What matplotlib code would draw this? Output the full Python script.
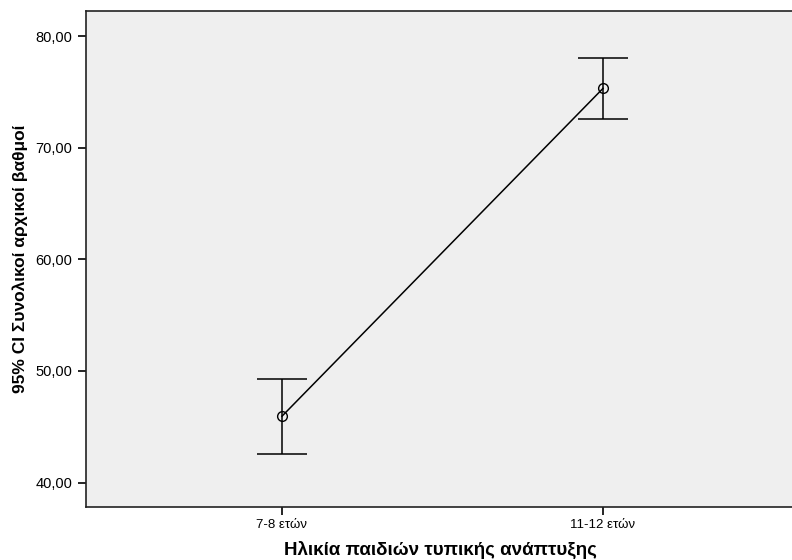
import matplotlib
matplotlib.use("Agg")
import matplotlib.pyplot as plt
import numpy as np

plt.rcParams['font.family'] = ['Liberation Sans', 'DejaVu Sans']

categories = ["7-8 ετών", "11-12 ετών"]
means = [45.95, 75.31]
upper = [49.28, 78.05]
lower = [42.54, 72.53]
yticks = [40, 50, 60, 70, 80]
ytick_labels = ["40,00", "50,00", "60,00", "70,00", "80,00"]

fig = plt.figure(figsize=(7.92, 5.60), dpi=100)
ax = fig.add_axes([85.5/792, 1 - 507/560, (795 - 85.5)/792, (507 - 11)/560])
ax.set_facecolor('#EFEFEF')

x = np.arange(len(categories))
m = np.array(means)
yerr = np.vstack([m - np.array(lower), np.array(upper) - m])
ax.errorbar(x, m, yerr=yerr, fmt='none', ecolor='black', elinewidth=1.1,
            capsize=18, capthick=1.1, zorder=3)
ax.plot(x, m, color='black', lw=1.1, zorder=4)
ax.plot(x, m, 'o', mfc='none', mec='black', ms=7, mew=1.0, zorder=5)

ax.set_xlim(-0.612, 1.598)
ax.set_ylim(37.82, 82.24)
ax.set_xticks(x)
ax.set_xticklabels(categories, fontsize=9.5)
ax.set_yticks(yticks)
ax.set_yticklabels(ytick_labels, fontsize=10.5)
ax.tick_params(axis='both', direction='out', length=6, width=1.2, color='black')
ax.tick_params(axis='x', length=6, pad=3)
for s in ['left', 'bottom', 'top']:
    ax.spines[s].set_linewidth(1.2)
    ax.spines[s].set_color('#222222')
ax.spines['right'].set_visible(False)

ax.set_xlabel("Ηλικία παιδιών τυπικής ανάπτυξης", fontsize=13.5, fontweight='bold', labelpad=7)
ax.set_ylabel("95% CI Συνολικοί αρχικοί βαθμοί", fontsize=12.5, fontweight='bold', labelpad=5)

fig.savefig("out.png", dpi=100)
